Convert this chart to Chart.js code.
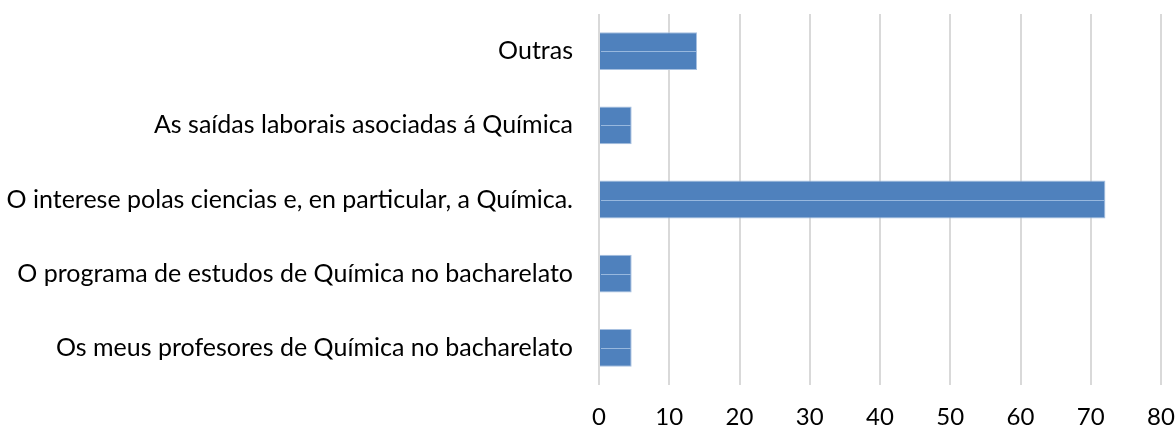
<!DOCTYPE html>
<html>
<head>
<meta charset="utf-8">
<script src="https://cdn.jsdelivr.net/npm/chart.js@4"></script>
<style>
  html, body { margin: 0; padding: 0; background: #fff; }
</style>
</head>
<body>
<canvas id="myChart" width="1176" height="429"></canvas>
<script>
const categories = [
  "Outras",
  "As saídas laborais asociadas á Química",
  "O interese polas ciencias e, en particular, a Química.",
  "O programa de estudos de Química no bacharelato",
  "Os meus profesores de Química no bacharelato",
];
const values = [13.95, 4.65, 72.09, 4.65, 4.65];
const xTicks = [0, 10, 20, 30, 40, 50, 60, 70, 80];

// thin lighter line through the middle of each bar, like the original
const midLine = {
  id: "midLine",
  afterDatasetsDraw(chart) {
    const c = chart.ctx;
    chart.getDatasetMeta(0).data.forEach((bar) => {
      c.save();
      c.strokeStyle = "rgba(160,190,225,0.9)";
      c.lineWidth = 1;
      c.beginPath();
      c.moveTo(bar.base + 1, Math.round(bar.y) + 0.5);
      c.lineTo(bar.x - 1, Math.round(bar.y) + 0.5);
      c.stroke();
      c.restore();
    });
  },
};

const ctx = document.getElementById("myChart").getContext("2d");
const myChart = new Chart(ctx, {
  type: "bar",
  data: {
    labels: categories,
    datasets: [
      {
        label: "Respostas",
        data: values,
        backgroundColor: "#4f81bd",
        borderColor: "#a7c0e0",
        borderWidth: 1,
        barPercentage: 0.51,
        categoryPercentage: 1,
      },
    ],
  },
  options: {
    indexAxis: "y",
    responsive: false,
    animation: false,
    layout: { padding: { top: 14, right: 15, left: 0, bottom: 0 } },
    scales: {
      x: {
        min: 0,
        max: 80,
        afterBuildTicks: (axis) => {
          axis.ticks = xTicks.map((v) => ({ value: v }));
        },
        afterFit: (axis) => {
          axis.paddingLeft = 0;
          axis.paddingRight = 0;
          axis.height = 44;
        },
        grid: { color: "#d9d9d9", lineWidth: 2, drawTicks: false },
        border: { display: false },
        ticks: {
          padding: 18,
          color: "#000",
          font: { family: "Lato", size: 24 },
        },
      },
      y: {
        afterFit: (axis) => {
          axis.paddingTop = 0;
          axis.paddingBottom = 0;
          axis.width = 599;
        },
        grid: { display: false, drawTicks: false },
        border: { display: false },
        ticks: {
          padding: 26,
          color: "#000",
          font: { family: "Lato", size: 25 },
        },
      },
    },
    plugins: {
      legend: { display: false },
      tooltip: { enabled: true },
    },
  },
  plugins: [midLine],
});
</script>
</body>
</html>
